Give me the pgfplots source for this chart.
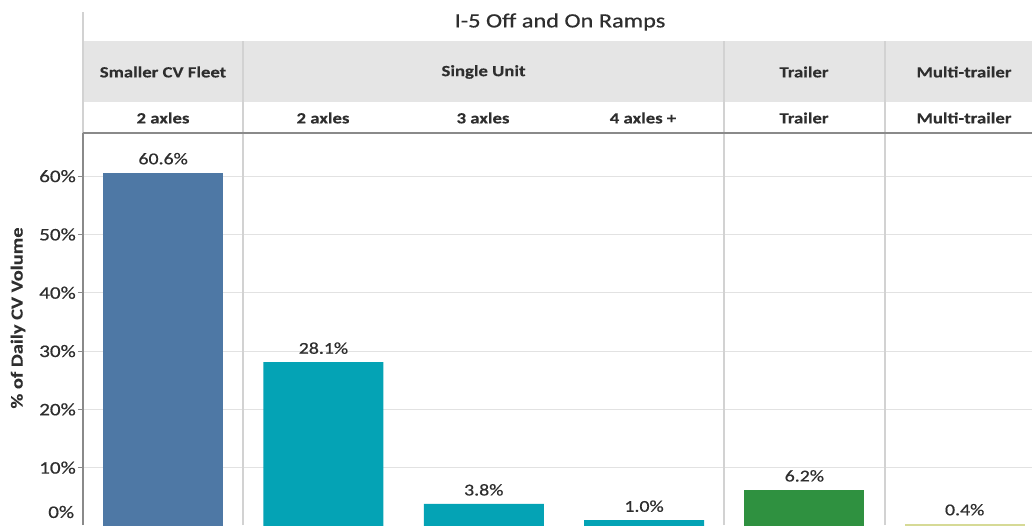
\documentclass[border=0pt]{standalone}
\usepackage{pgfplots}
\pgfplotsset{compat=1.18}
\usepackage{fontspec}
\setmainfont{Carlito}[FakeStretch=1.2, UprightFeatures={FakeBold=0.6}, BoldFeatures={FakeBold=0.2}]

\definecolor{cvblue}{HTML}{4E78A5}
\definecolor{suteal}{HTML}{04A3B5}
\definecolor{trgreen}{HTML}{2F9140}
\definecolor{mtyellow}{HTML}{D6DA96}
\definecolor{headgray}{HTML}{E5E5E5}
\definecolor{gridgray}{HTML}{E2E2E2}
\definecolor{sepgray}{HTML}{D2D2D2}
\definecolor{axisgray}{HTML}{8A8A8A}
\definecolor{txt}{HTML}{2E2E2E}

\newcommand{\fs}[1]{\fontsize{#1}{#1}\selectfont}

\begin{document}
\begin{tikzpicture}[x=0.75pt,y=0.75pt]
\useasboundingbox (0,0) rectangle (1032,525);

% header band behind the column titles
\fill[headgray] (83,423) rectangle (1032,484);

\begin{axis}[
  at={(62.25pt,-0.75pt)}, anchor=south west,
  width=711.75pt, height=294.75pt, scale only axis,
  xmin=-0.5, xmax=5.42, ymin=0, ymax=67.4,
  ybar, bar width=90pt, bar shift=0pt,
  xtick=\empty,
  ytick={10,20,...,60},
  yticklabel={\pgfmathparse{int(\tick)}\pgfmathresult\%},
  yticklabel style={font=\fs{13.2pt}, text=txt, inner sep=1.5pt},
  tick align=outside, major tick length=3.75pt,
  ytick style={draw=axisgray, line width=0.75pt},
  ymajorgrids, major grid style={draw=gridgray, line width=0.8pt},
  axis line style={draw=none},
  nodes near coords={\pgfmathprintnumber[fixed,fixed zerofill,precision=1]{\pgfplotspointmeta}\%},
  nodes near coords style={font=\fs{12.4pt}, text=txt, inner sep=3pt, yshift=3pt},
  /pgf/number format/assume math mode=true,
  clip=false,
]
\addplot[fill=cvblue, draw=none] coordinates {(0,60.6)};
\addplot[fill=suteal, draw=none] coordinates {(1,28.1) (2,3.8) (3,1.0)};
\addplot[fill=trgreen, draw=none] coordinates {(4,6.2)};
\addplot[fill=mtyellow, draw=none] coordinates {(5,0.4)};
\node[anchor=east, font=\fs{13.2pt}, text=txt, inner sep=0pt] at (axis cs:-0.5,0) [xshift=-6.5pt, yshift=10.5pt] {0\%};
\end{axis}

% column separators
\foreach \xx in {243,724,885}
  \draw[sepgray, line width=1.4pt] (\xx,0) -- (\xx,484);
% left axis line and top border
\draw[sepgray, line width=1pt] (83,392) -- (83,513);
\draw[axisgray, line width=1pt] (83,0) -- (83,392);
\draw[axisgray, line width=1.1pt] (83,392) -- (1032,392);

% titles
\node[font=\fs{15.2pt}, text=txt] at (560,503) {I-5 Off and On Ramps};
\foreach \xx/\lab in {163/Smaller CV Fleet, 483.5/Single Unit, 804/Trailer, 964/Multi-trailer}
  \node[font=\bfseries\fs{11.7pt}, text=txt] at (\xx,453) {\lab};
\foreach \xx/\lab in {163/2 axles, 323/2 axles, 483/3 axles, 643/4 axles +, 804/Trailer, 964/Multi-trailer}
  \node[font=\bfseries\fs{11.7pt}, text=txt] at (\xx,407) {\lab};

% value axis title
\node[rotate=90, font=\bfseries\fs{12.75pt}, text=txt] at (18,207) {\% of Daily CV Volume};
\end{tikzpicture}
\end{document}
